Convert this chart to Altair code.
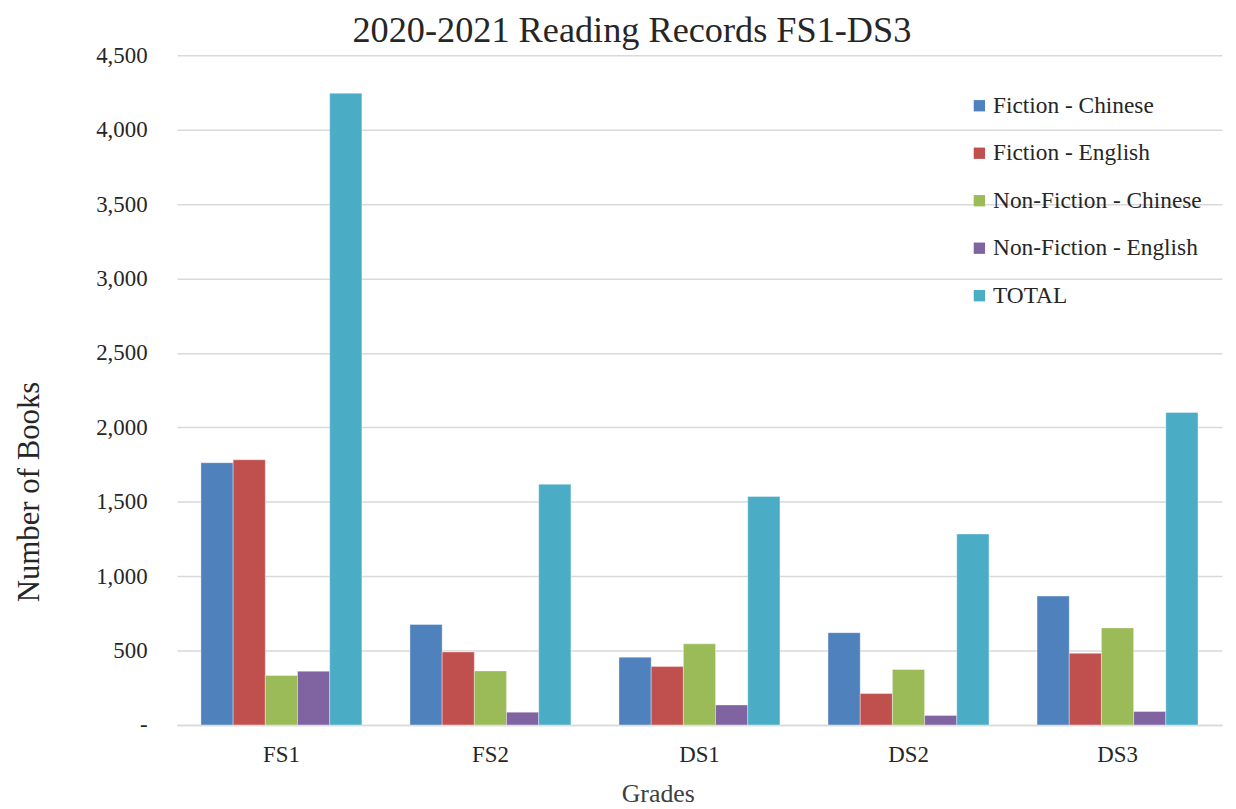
import altair as alt
import pandas as pd

grades = ["FS1", "FS2", "DS1", "DS2", "DS3"]
series = ["Fiction - Chinese", "Fiction - English", "Non-Fiction - Chinese",
          "Non-Fiction - English", "TOTAL"]
fiction_chinese = [1762, 675, 455, 620, 866]
fiction_english = [1782, 490, 392, 211, 481]
nonfiction_chinese = [333, 363, 545, 373, 652]
nonfiction_english = [361, 86, 134, 64, 90]
total = [4245, 1617, 1535, 1283, 2100]
colors = ["#4F81BD", "#C0504D", "#9BBB59", "#8064A2", "#4BACC6"]

values = [fiction_chinese, fiction_english, nonfiction_chinese, nonfiction_english, total]
rows = []
for s, vals in zip(series, values):
    for g, v in zip(grades, vals):
        rows.append({"Grade": g, "Series": s, "Books": v})
df = pd.DataFrame(rows)

FONT = "Liberation Serif"

chart = alt.Chart(df).mark_bar(stroke="#ffffff", strokeWidth=0.6, strokeOpacity=0.6).encode(
    x=alt.X("Grade:N", sort=grades,
            scale=alt.Scale(paddingInner=0.23, paddingOuter=0.115),
            axis=alt.Axis(title="Grades", labelAngle=0, labelFontSize=23, labelFont=FONT,
                          labelColor="#262626", labelPadding=19, ticks=False,
                          domainColor="#d9d9d9", domainWidth=1.5,
                          titleFont=FONT, titleFontSize=26, titleFontWeight="normal",
                          titleColor="#404040", titleX=484, titleY=69,
                          titleAlign="center", titleBaseline="middle")),
    xOffset=alt.XOffset("Series:N", sort=series),
    y=alt.Y("Books:Q", scale=alt.Scale(domain=[0, 4500], nice=False),
            axis=alt.Axis(title="Number of Books", values=list(range(0, 4501, 500)),
                          labelExpr="datum.value == 0 ? '-\u00a0\u00a0' : format(datum.value, ',')",
                          labelFontSize=23, labelFont=FONT, labelColor="#262626",
                          labelPadding=30, ticks=False, domain=False,
                          gridColor="#d9d9d9", gridWidth=1.5,
                          titleFont=FONT, titleFontSize=31, titleFontWeight="normal",
                          titleColor="#262626", titleAngle=270, titleX=-148, titleY=439,
                          titleAlign="center", titleBaseline="middle")),
    color=alt.Color("Series:N", sort=series,
                    scale=alt.Scale(domain=series, range=colors),
                    legend=alt.Legend(title=None, orient="none", legendX=796, legendY=39,
                                      symbolType="square", symbolSize=130,
                                      symbolStrokeWidth=0, labelFont=FONT,
                                      labelFontSize=23.5, labelColor="#262626",
                                      labelLimit=400,
                                      rowPadding=22.8, labelOffset=2)),
).properties(
    width=1052, height=674,
    title=alt.TitleParams("2020-2021 Reading Records FS1-DS3", font=FONT, fontSize=36.5,
                          fontWeight="normal", color="#262626", dx=-68, offset=-5),
    autosize=alt.AutoSizeParams(type="none"),
    padding={"left": 170, "top": 45, "right": 6, "bottom": 84},
).configure(font=FONT).configure_view(stroke=None)

chart.save("out.html", embed_options={"renderer": "svg", "actions": False})
